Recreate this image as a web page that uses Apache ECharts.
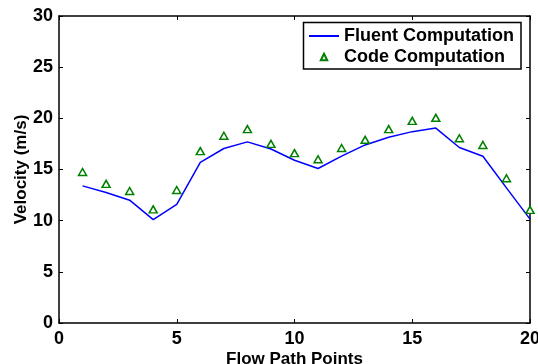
<!DOCTYPE html>
<html>
<head>
<meta charset="utf-8">
<script src="https://cdn.jsdelivr.net/npm/echarts@6/dist/echarts.min.js"></script>
<style>
  html, body { margin: 0; padding: 0; background: #fff; }
  #chart { width: 538px; height: 364px; }
</style>
</head>
<body>
<div id="chart"></div>
<script>
// Flow path point indices
const points = [1, 2, 3, 4, 5, 6, 7, 8, 9, 10, 11, 12, 13, 14, 15, 16, 17, 18, 19, 20];
// Velocity from the Fluent solution (m/s)
const fluentVelocity = [13.4, 12.75, 12.0, 10.1, 11.6, 15.7, 17.05, 17.7, 17.0, 15.9,
                        15.1, 16.3, 17.4, 18.15, 18.7, 19.05, 17.15, 16.3, 13.2, 10.15];
// Velocity from the in-house code (m/s)
const codeVelocity = [14.75, 13.6, 12.9, 11.1, 13.0, 16.8, 18.3, 18.95, 17.5, 16.6,
                      16.0, 17.1, 17.9, 18.95, 19.75, 20.05, 18.05, 17.4, 14.15, 11.05];
const xTicks = [0, 5, 10, 15, 20];
const yTicks = [0, 5, 10, 15, 20, 25, 30];

const FONT = '"Liberation Sans", Arial, Helvetica, sans-serif';
const pair = (vals) => points.map((x, i) => [x, vals[i]]);

const chart = echarts.init(document.getElementById('chart'), null, { renderer: 'canvas' });

const axisLine = { show: true, onZero: false, lineStyle: { color: '#000', width: 1.5 } };
const axisTick = { show: true, inside: true, length: 4, lineStyle: { color: '#000', width: 1 } };
const labelStyle = { color: '#000', fontFamily: FONT, fontWeight: 'bold', fontSize: 18 };
const nameStyle = { color: '#000', fontFamily: FONT, fontWeight: 'bold', fontSize: 17 };

chart.setOption({
  animation: false,
  backgroundColor: '#fff',
  grid: { left: 59, right: 8, top: 16, bottom: 41, containLabel: false, outerBoundsMode: 'none' },
  xAxis: [
    {
      type: 'value', position: 'bottom',
      min: xTicks[0], max: xTicks[xTicks.length - 1], interval: 5,
      name: 'Flow Path Points', nameLocation: 'middle', nameGap: 28, nameMoveOverlap: false,
      nameTextStyle: nameStyle,
      axisLine, axisTick,
      axisLabel: Object.assign({ margin: 7 }, labelStyle),
      splitLine: { show: false }
    },
    {
      type: 'value', position: 'top',
      min: xTicks[0], max: xTicks[xTicks.length - 1], interval: 5,
      axisLine, axisTick,
      axisLabel: { show: false },
      splitLine: { show: false }
    }
  ],
  yAxis: [
    {
      type: 'value', position: 'left',
      min: yTicks[0], max: yTicks[yTicks.length - 1], interval: 5,
      name: 'Velocity (m/s)', nameLocation: 'middle', nameGap: 29, nameMoveOverlap: false,
      nameTextStyle: nameStyle,
      axisLine, axisTick,
      axisLabel: Object.assign({ margin: 6 }, labelStyle),
      splitLine: { show: false }
    },
    {
      type: 'value', position: 'right',
      min: yTicks[0], max: yTicks[yTicks.length - 1], interval: 5,
      axisLine, axisTick,
      axisLabel: { show: false },
      splitLine: { show: false }
    }
  ],
  legend: {
    orient: 'vertical',
    left: 308, top: 27,
    itemWidth: 30, itemHeight: 8, itemGap: 3,
    padding: 0,
    textStyle: { color: '#000', fontFamily: FONT, fontWeight: 'bold', fontSize: 18 },
    data: [
      { name: 'Fluent Computation', itemStyle: { opacity: 0 } },
      { name: 'Code Computation' }
    ]
  },
  graphic: [
    {
      type: 'rect', z: 100, silent: true,
      shape: { x: 303.5, y: 22.5, width: 217.5, height: 46.5 },
      style: { fill: null, stroke: '#000', lineWidth: 1.5 }
    }
  ],
  series: [
    {
      name: 'Fluent Computation',
      type: 'line',
      data: pair(fluentVelocity),
      symbol: 'none',
      lineStyle: { color: '#0000ff', width: 1.5 },
      itemStyle: { color: '#0000ff' },
      z: 3
    },
    {
      name: 'Code Computation',
      type: 'line',
      data: pair(codeVelocity),
      symbol: 'triangle',
      symbolSize: [8, 7],
      showSymbol: true,
      lineStyle: { opacity: 0, width: 0 },
      itemStyle: { color: '#fff', borderColor: '#008000', borderWidth: 1.5 },
      z: 4
    }
  ]
});
</script>
</body>
</html>
